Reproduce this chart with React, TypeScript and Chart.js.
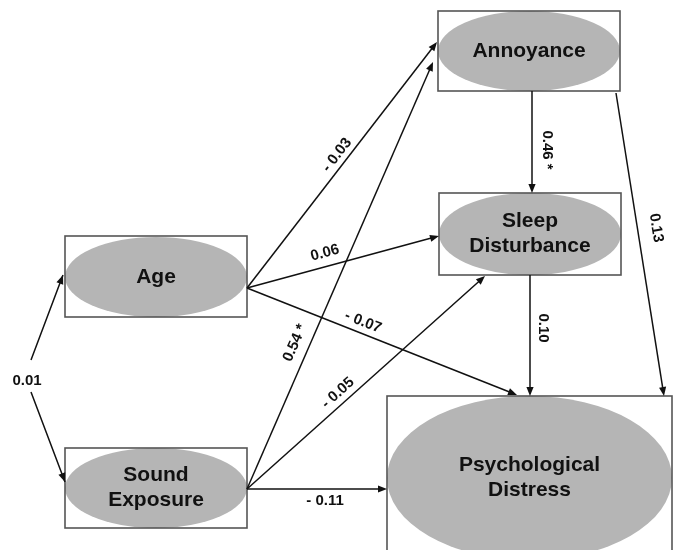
import React, { useEffect, useRef } from "react";
import { Chart, registerables } from "chart.js";

Chart.register(...registerables);

// ---- Data: variables and path coefficients ----
const NODE_LINES: string[][] = [
  ["Annoyance"],
  ["Sleep", "Disturbance"],
  ["Age"],
  ["Sound", "Exposure"],
  ["Psychological", "Distress"],
];
const PATH_FROM = [2, 2, 2, 3, 3, 3, 0, 1, 0];
const PATH_TO = [0, 1, 4, 0, 1, 4, 1, 4, 4];
const PATH_COEF = ["- 0.03", "0.06", "- 0.07", "0.54 *", "- 0.05", "- 0.11", "0.46 *", "0.10", "0.13"];
const CORR_COEF = "0.01";

// ---- Layout (diagram coordinates, 680 x 550) ----
const BOX_LEFT = [438, 439, 65, 65, 387];
const BOX_TOP = [11, 193, 236, 448, 396];
const BOX_W = [182, 182, 182, 182, 285];
const BOX_H = [80, 82, 81, 80, 170];
const ELL_CY = [51, 234, 277, 488, 478];
const ELL_RY = [40, 41, 40, 40, 82];
const EDGE_START: number[][] = [[247, 288], [247, 288], [247, 288], [247, 489], [247, 489], [247, 489], [532, 91], [530, 275], [616, 93]];
const EDGE_END: number[][] = [[437, 42], [439, 236], [517, 395], [433, 62], [485, 276], [387, 489], [532, 193], [530, 396], [664, 396]];
const LABEL_POS: number[][] = [[337, 155], [325, 253], [363, 322], [295, 343], [338, 393], [325, 501], [547, 150], [543, 328], [656, 228]];
const CORR_PTS: number[][] = [[63, 275], [31, 360], [31, 392], [65, 482]];
const CORR_LABEL_POS = [27, 381];

const FONT = "'Liberation Sans', Arial, Helvetica, sans-serif";

function arrowHead(ctx: CanvasRenderingContext2D, x1: number, y1: number, x2: number, y2: number) {
  const a = Math.atan2(y2 - y1, x2 - x1);
  const L = 9, W = 3.6;
  ctx.beginPath();
  ctx.moveTo(x2, y2);
  ctx.lineTo(x2 - L * Math.cos(a) + W * Math.sin(a), y2 - L * Math.sin(a) - W * Math.cos(a));
  ctx.lineTo(x2 - L * Math.cos(a) - W * Math.sin(a), y2 - L * Math.sin(a) + W * Math.cos(a));
  ctx.closePath();
  ctx.fill();
}

const diagramPlugin = {
  id: "pathDiagram",
  afterDatasetsDraw(chart: any) {
    const ctx: CanvasRenderingContext2D = chart.ctx;
    const xs = chart.scales.x;
    const ys = chart.scales.y;
    const px = (v: number) => xs.getPixelForValue(v);
    const py = (v: number) => ys.getPixelForValue(v);
    ctx.save();

    // nodes
    NODE_LINES.forEach((lines, i) => {
      const l = px(BOX_LEFT[i]);
      const r = px(BOX_LEFT[i] + BOX_W[i]);
      const t = py(BOX_TOP[i]);
      const b = py(BOX_TOP[i] + BOX_H[i]);
      const cx = (l + r) / 2;
      const cy = py(ELL_CY[i]);
      const ry = Math.abs(py(ELL_CY[i] + ELL_RY[i]) - cy);
      ctx.save();
      ctx.beginPath();
      ctx.rect(l, t, r - l, b - t);
      ctx.clip();
      ctx.fillStyle = "#b5b5b5";
      ctx.beginPath();
      ctx.ellipse(cx, cy, (r - l) / 2, ry, 0, 0, Math.PI * 2);
      ctx.fill();
      ctx.restore();
      ctx.strokeStyle = "#555555";
      ctx.lineWidth = 1.6;
      ctx.strokeRect(l, t, r - l, b - t);

      ctx.fillStyle = "#111111";
      ctx.font = `bold 21px ${FONT}`;
      ctx.textAlign = "center";
      ctx.textBaseline = "middle";
      const lh = 25;
      lines.forEach((s, k) => {
        ctx.fillText(s, cx, cy + (k - (lines.length - 1) / 2) * lh);
      });
    });

    // directed paths
    ctx.strokeStyle = "#111111";
    ctx.fillStyle = "#111111";
    ctx.lineWidth = 1.5;
    PATH_COEF.forEach((coef, i) => {
      const x1 = px(EDGE_START[i][0]), y1 = py(EDGE_START[i][1]);
      const x2 = px(EDGE_END[i][0]), y2 = py(EDGE_END[i][1]);
      const a = Math.atan2(y2 - y1, x2 - x1);
      ctx.beginPath();
      ctx.moveTo(x1, y1);
      ctx.lineTo(x2 - 6 * Math.cos(a), y2 - 6 * Math.sin(a));
      ctx.stroke();
      arrowHead(ctx, x1, y1, x2, y2);

      ctx.save();
      ctx.translate(px(LABEL_POS[i][0]), py(LABEL_POS[i][1]));
      ctx.rotate(a);
      ctx.font = `bold 15px ${FONT}`;
      ctx.textAlign = "center";
      ctx.textBaseline = "middle";
      ctx.fillText(coef, 0, 0);
      ctx.restore();
    });

    // correlation (double-headed)
    const c = CORR_PTS.map((p) => [px(p[0]), py(p[1])]);
    ctx.beginPath();
    ctx.moveTo(c[0][0], c[0][1]);
    ctx.lineTo(c[1][0], c[1][1]);
    ctx.moveTo(c[2][0], c[2][1]);
    ctx.lineTo(c[3][0], c[3][1]);
    ctx.stroke();
    arrowHead(ctx, c[1][0], c[1][1], c[0][0], c[0][1]);
    arrowHead(ctx, c[2][0], c[2][1], c[3][0], c[3][1]);
    ctx.font = `bold 15px ${FONT}`;
    ctx.textAlign = "center";
    ctx.textBaseline = "middle";
    ctx.fillText(CORR_COEF, px(CORR_LABEL_POS[0]), py(CORR_LABEL_POS[1]));

    ctx.restore();
  },
};

export default function App() {
  const ref = useRef<HTMLCanvasElement>(null);
  useEffect(() => {
    document.body.style.margin = "0";
    const canvas = ref.current;
    if (!canvas) return;
    const chart = new Chart(canvas, {
      type: "scatter",
      data: {
        datasets: [
          {
            data: NODE_LINES.map((_, i) => ({ x: BOX_LEFT[i] + BOX_W[i] / 2, y: ELL_CY[i] })),
            pointRadius: 0,
            showLine: false,
          },
        ],
      },
      options: {
        responsive: false,
        animation: false,
        events: [],
        layout: { padding: 0 },
        plugins: { legend: { display: false }, tooltip: { enabled: false } },
        scales: {
          x: { type: "linear", min: 0, max: 680, display: false },
          y: { type: "linear", min: 0, max: 550, reverse: true, display: false },
        },
      },
      plugins: [diagramPlugin],
    });
    return () => chart.destroy();
  }, []);
  return (
    <div style={{ width: 680, height: 550, background: "#fff" }}>
      <canvas ref={ref} width={680} height={550} style={{ display: "block" }} />
    </div>
  );
}
